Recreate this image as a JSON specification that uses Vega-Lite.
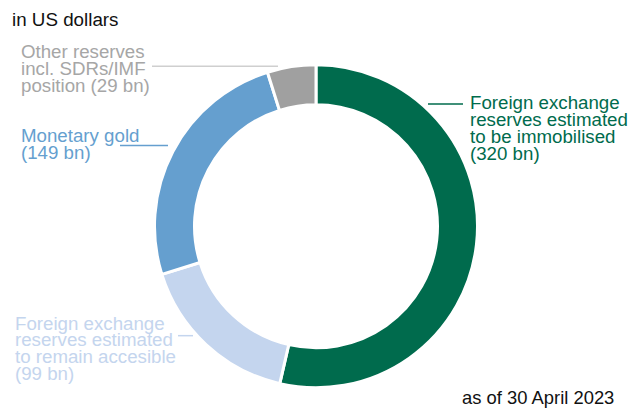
{
  "$schema": "https://vega.github.io/schema/vega-lite/v6.json",
  "width": 629,
  "height": 408,
  "autosize": {"type": "fit", "contains": "padding"},
  "padding": 0,
  "config": {
    "view": {"stroke": null},
    "text": {"font": "Liberation Sans", "fontSize": 18.7, "lineHeight": 16.7, "align": "left", "baseline": "alphabetic", "lineBreak": "\n"}
  },
  "data": {"values": [{"a": 1}]},
  "layer": [
    {
      "data": {"values": [
        {"seg": "Foreign exchange reserves estimated to be immobilised", "value": 320, "ord": 1},
        {"seg": "Foreign exchange reserves estimated to remain accesible", "value": 99, "ord": 2},
        {"seg": "Monetary gold", "value": 149, "ord": 3},
        {"seg": "Other reserves incl. SDRs/IMF position", "value": 29, "ord": 4}
      ]},
      "mark": {"type": "arc", "outerRadius": 161.5, "innerRadius": 121.5, "stroke": "white", "strokeWidth": 3},
      "encoding": {
        "theta": {"field": "value", "type": "quantitative", "stack": true},
        "order": {"field": "ord", "type": "quantitative"},
        "color": {
          "field": "seg", "type": "nominal", "legend": null,
          "scale": {
            "domain": ["Foreign exchange reserves estimated to be immobilised", "Foreign exchange reserves estimated to remain accesible", "Monetary gold", "Other reserves incl. SDRs/IMF position"],
            "range": ["#006B4D", "#C4D5EE", "#659FCF", "#A0A0A0"]
          }
        },
        "x": {"datum": 316, "type": "quantitative", "scale": {"domain": [0, 629], "nice": false, "zero": false}, "axis": null},
        "y": {"datum": 228.5, "type": "quantitative", "scale": {"domain": [0, 408], "nice": false, "zero": false, "reverse": true}, "axis": null}
      }
    },
    {"mark": {"type": "rule", "color": "#006B4D", "strokeWidth": 1.5},
     "encoding": {"x": {"datum": 428, "type": "quantitative"}, "x2": {"datum": 463}, "y": {"datum": 105, "type": "quantitative"}}},
    {"mark": {"type": "rule", "color": "#CFCFCF", "strokeWidth": 1.5},
     "encoding": {"x": {"datum": 152, "type": "quantitative"}, "x2": {"datum": 278}, "y": {"datum": 67, "type": "quantitative"}}},
    {"mark": {"type": "rule", "color": "#659FCF", "strokeWidth": 1.5},
     "encoding": {"x": {"datum": 120, "type": "quantitative"}, "x2": {"datum": 168}, "y": {"datum": 147, "type": "quantitative"}}},
    {"mark": {"type": "rule", "color": "#C4D5EE", "strokeWidth": 1.5},
     "encoding": {"x": {"datum": 178, "type": "quantitative"}, "x2": {"datum": 193}, "y": {"datum": 339, "type": "quantitative"}}},
    {"data": {"values": [{"t": "in US dollars"}]},
     "mark": {"type": "text", "color": "#111111", "fontSize": 18.8},
     "encoding": {"text": {"field": "t"}, "x": {"datum": 12, "type": "quantitative"}, "y": {"datum": 26, "type": "quantitative"}}},
    {"data": {"values": [{"t": "Other reserves\nincl. SDRs/IMF\nposition (29 bn)"}]},
     "mark": {"type": "text", "color": "#A6A6A6"},
     "encoding": {"text": {"field": "t"}, "x": {"datum": 21, "type": "quantitative"}, "y": {"datum": 59, "type": "quantitative"}}},
    {"data": {"values": [{"t": "Monetary gold\n(149 bn)"}]},
     "mark": {"type": "text", "color": "#659FCF"},
     "encoding": {"text": {"field": "t"}, "x": {"datum": 21, "type": "quantitative"}, "y": {"datum": 143.5, "type": "quantitative"}}},
    {"data": {"values": [{"t": "Foreign exchange\nreserves estimated\nto remain accesible\n(99 bn)"}]},
     "mark": {"type": "text", "color": "#C4D5EE"},
     "encoding": {"text": {"field": "t"}, "x": {"datum": 15, "type": "quantitative"}, "y": {"datum": 333, "type": "quantitative"}}},
    {"data": {"values": [{"t": "Foreign exchange\nreserves estimated\nto be immobilised\n(320 bn)"}]},
     "mark": {"type": "text", "color": "#006B4D"},
     "encoding": {"text": {"field": "t"}, "x": {"datum": 470, "type": "quantitative"}, "y": {"datum": 110.5, "type": "quantitative"}}},
    {"data": {"values": [{"t": "as of 30 April 2023"}]},
     "mark": {"type": "text", "color": "#111111", "fontSize": 18.4},
     "encoding": {"text": {"field": "t"}, "x": {"datum": 462, "type": "quantitative"}, "y": {"datum": 408, "type": "quantitative"}}}
  ]
}
